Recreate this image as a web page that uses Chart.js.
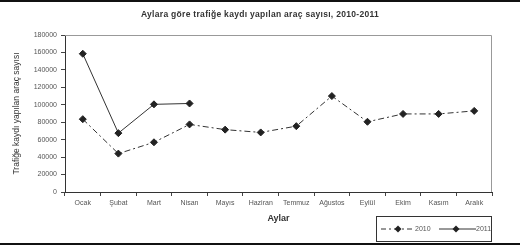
<!DOCTYPE html>
<html>
<head>
<meta charset="utf-8">
<script src="https://cdn.jsdelivr.net/npm/chart.js@4"></script>
<style>
    body { margin: 0; background: #fff; font-family: "Liberation Sans", Arial, sans-serif; }
    #wrap { position: relative; width: 520px; height: 245px; overflow: hidden; }
    #wrap canvas { position: absolute; left: 0; top: 0; }
    .bar { position: absolute; left: 0; width: 520px; height: 2px; background: #111; }
    #title { position: absolute; left: 0; width: 520px; top: 9px; text-align: center;
        font-size: 8.5px; font-weight: bold; color: #333; letter-spacing: 0.3px; }
    #legend { position: absolute; left: 376px; top: 216px; width: 116px; height: 26px;
        border: 1px solid #333; box-sizing: border-box; font-size: 7px; color: #555; }
    #legend span { position: absolute; top: 8px; line-height: 8px; }
    #legend svg { position: absolute; top: 7px; }
</style>
</head>
<body>
<div id="wrap">
    <canvas id="vehicleChart" width="520" height="245"></canvas>
    <div class="bar" style="top:0"></div>
    <div class="bar" style="top:243px"></div>
    <div id="title">Aylara göre trafiğe kaydı yapılan araç sayısı, 2010-2011</div>
    <div id="legend">
        <svg width="32" height="10" style="left:4px">
            <line x1="0" y1="5" x2="32" y2="5" stroke="#333" stroke-width="1" stroke-dasharray="5,3,2,3"/>
            <path d="M17 1.5 L20.5 5 L17 8.5 L13.5 5 Z" fill="#222"/>
        </svg>
        <span style="left:38px">2010</span>
        <svg width="37" height="10" style="left:62px">
            <line x1="0" y1="5" x2="37" y2="5" stroke="#333" stroke-width="1"/>
            <path d="M17 1.5 L20.5 5 L17 8.5 L13.5 5 Z" fill="#222"/>
        </svg>
        <span style="left:99px">2011</span>
    </div>
</div>
<script>
    const months = ["Ocak", "Şubat", "Mart", "Nisan", "Mayıs", "Haziran",
        "Temmuz", "Ağustos", "Eylül", "Ekim", "Kasım", "Aralık"];
    const values2010 = [83500, 44000, 57000, 77500, 71500, 68300, 75500, 110000, 80500, 89500, 89500, 93000];
    const values2011 = [158500, 67500, 100500, 101500, null, null, null, null, null, null, null, null];
    const yTicks = { min: 0, max: 180000, step: 20000 };

    // gray frame on top and right of the plot area
    const plotFrame = {
        id: 'plotFrame',
        beforeDatasetsDraw(chart) {
            const { ctx, chartArea: a } = chart;
            ctx.save();
            ctx.strokeStyle = '#999';
            ctx.lineWidth = 1;
            ctx.beginPath();
            ctx.moveTo(a.left, a.top + 0.5);
            ctx.lineTo(a.right - 0.5, a.top + 0.5);
            ctx.lineTo(a.right - 0.5, a.bottom);
            ctx.stroke();
            ctx.restore();
        }
    };

    const tickFont = { family: 'Liberation Sans', size: 7 };

    new Chart(document.getElementById('vehicleChart'), {
        type: 'line',
        data: {
            labels: months,
            datasets: [
                {
                    label: '2010',
                    data: values2010,
                    borderColor: '#333',
                    borderWidth: 1,
                    borderDash: [6, 3, 2, 3],
                    pointStyle: 'rectRot',
                    pointRadius: 3.5,
                    pointBackgroundColor: '#222',
                    pointBorderColor: '#222',
                    tension: 0
                },
                {
                    label: '2011',
                    data: values2011,
                    borderColor: '#333',
                    borderWidth: 1,
                    pointStyle: 'rectRot',
                    pointRadius: 3.5,
                    pointBackgroundColor: '#222',
                    pointBorderColor: '#222',
                    spanGaps: false,
                    tension: 0
                }
            ]
        },
        options: {
            responsive: false,
            animation: false,
            layout: { padding: { left: 0, right: 28, top: 35, bottom: 0 } },
            plugins: {
                legend: { display: false },
                title: { display: false },
                tooltip: { enabled: false }
            },
            scales: {
                x: {
                    offset: true,
                    afterFit(scale) { scale.height = 53; },
                    grid: { offset: true, drawOnChartArea: false, tickLength: 4, color: '#444' },
                    border: { color: '#333' },
                    ticks: { font: tickFont, color: '#555', padding: 3, maxRotation: 0, autoSkip: false },
                    title: {
                        display: true, text: 'Aylar', color: '#333',
                        font: { family: 'Liberation Sans', size: 9, weight: 'bold' },
                        padding: { top: 0, bottom: 21 }
                    }
                },
                y: {
                    min: yTicks.min,
                    max: yTicks.max,
                    afterFit(scale) { scale.width = 65; },
                    grid: { drawOnChartArea: false, tickLength: 4, color: '#444' },
                    border: { color: '#333' },
                    ticks: {
                        stepSize: yTicks.step, font: tickFont, color: '#555', padding: 4,
                        callback: v => String(v)
                    },
                    title: {
                        display: true, text: 'Trafiğe kaydı yapılan araç sayısı', color: '#333',
                        font: { family: 'Liberation Sans', size: 8.5 },
                        padding: { top: 12, bottom: 0 }
                    }
                }
            }
        },
        plugins: [plotFrame]
    });
</script>
</body>
</html>
